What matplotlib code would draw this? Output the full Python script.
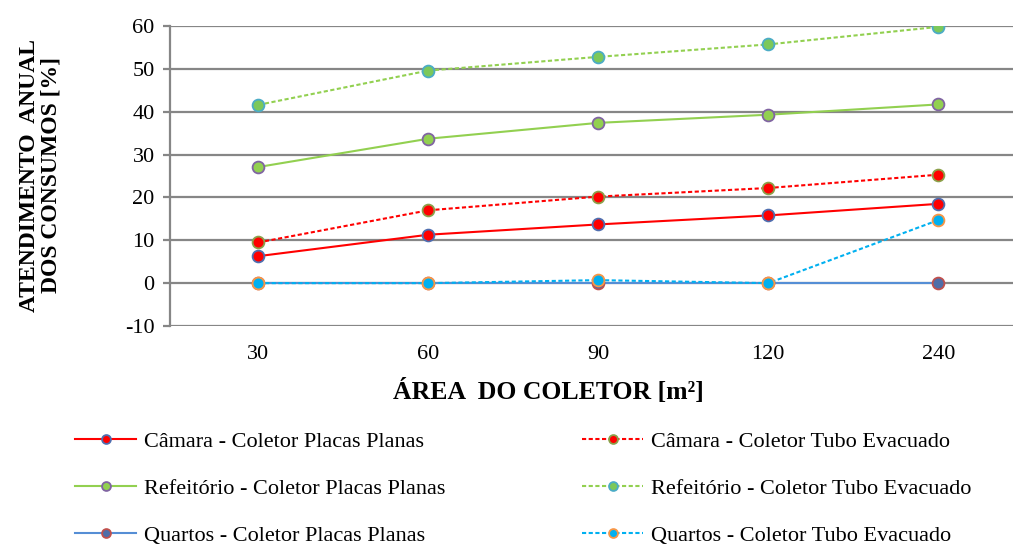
import matplotlib
matplotlib.use('Agg')
import matplotlib.pyplot as plt
import numpy as np

''' data '''
areas = ['30', '60', '90', '120', '240']

camara_placas = [6.3, 11.3, 13.7, 15.8, 18.5]
camara_tubo = [9.5, 17.0, 20.2, 22.2, 25.3]
refeitorio_placas = [27.1, 33.7, 37.4, 39.3, 41.7]
refeitorio_tubo = [41.6, 49.6, 52.8, 55.7, 59.8]
quartos_placas = [0.0, 0.0, 0.0, 0.0, 0.0]
quartos_tubo = [0.0, 0.0, 0.7, 0.0, 14.7]

plt.rcParams['font.family'] = ['Liberation Serif', 'DejaVu Serif']
plt.rcParams['axes.unicode_minus'] = False

W, H = 1013, 547
fig = plt.figure(figsize=(W/100, H/100), dpi=100)
ax = fig.add_axes([170/W, 1-326/H, 1-170/W, 300/H])

xpos = np.arange(len(areas))
dash = (0, (2, 1.2))

# (values, label, line colour, linestyle, marker face, marker edge)
series = [
    (camara_placas, 'Câmara - Coletor Placas Planas', '#FF0000', '-', '#FF0000', '#4F6EAF'),
    (camara_tubo, 'Câmara - Coletor Tubo Evacuado', '#FF0000', dash, '#FF0000', '#8BA04A'),
    (refeitorio_placas, 'Refeitório - Coletor Placas Planas', '#92D050', '-', '#92D050', '#8064A2'),
    (refeitorio_tubo, 'Refeitório - Coletor Tubo Evacuado', '#92D050', dash, '#7CC85A', '#4BACC6'),
    (quartos_placas, 'Quartos - Coletor Placas Planas', '#558ED5', '-', '#4F6EA8', '#C0504D'),
    (quartos_tubo, 'Quartos - Coletor Tubo Evacuado', '#00B0F0', dash, '#00B0F0', '#F79646'),
]

handles = []
for vals, lab, col, ls, face, edge in series:
    h, = ax.plot(xpos, vals, color=col, linestyle=ls, linewidth=1.5,
                 marker='o', markersize=8.5, markerfacecolor=face,
                 markeredgecolor=edge, markeredgewidth=1.3, label=lab, zorder=3)
    handles.append(h)

ax.set_xlim(-0.52, 4.44)
ax.set_ylim(-10, 60)
ax.set_yticks(np.arange(-10, 61, 10))
ax.set_xticks(xpos)
ax.set_xticklabels(areas)

ax.grid(axis='y', color='#868686', linewidth=1.6, zorder=0)
ax.set_axisbelow(True)
for s in ['top', 'right', 'bottom']:
    ax.spines[s].set_visible(False)
ax.spines['left'].set_color('#868686')
ax.spines['left'].set_linewidth(1.6)
ax.tick_params(axis='y', colors='#868686', labelcolor='black', length=5, width=1.6,
               labelsize=16, pad=6)
ax.tick_params(axis='x', length=0, labelsize=16, pad=14)

fig.text(548/W, 1-392/H, 'ÁREA  DO COLETOR [m²]', ha='center', va='center',
         fontsize=18.5, fontweight='bold')
fig.text(40/W, 1-175/H, 'ATENDIMENTO  ANUAL\nDOS CONSUMOS [%]', ha='center', va='center',
         rotation=90, fontsize=17, fontweight='bold', linespacing=1.05)

# two legend columns placed separately
leg_kw = dict(loc='upper left', frameon=False, fontsize=16, handlelength=2.75,
              handletextpad=0.35, labelspacing=1.2, borderaxespad=0, borderpad=0,
              markerscale=0.75)
leg1 = fig.legend(handles=handles[0::2], bbox_to_anchor=(75/W, 1-431/H), **leg_kw)
leg2 = fig.legend(handles=handles[1::2], bbox_to_anchor=(582/W, 1-431/H), **leg_kw)

fig.savefig('out.png', dpi=100)
